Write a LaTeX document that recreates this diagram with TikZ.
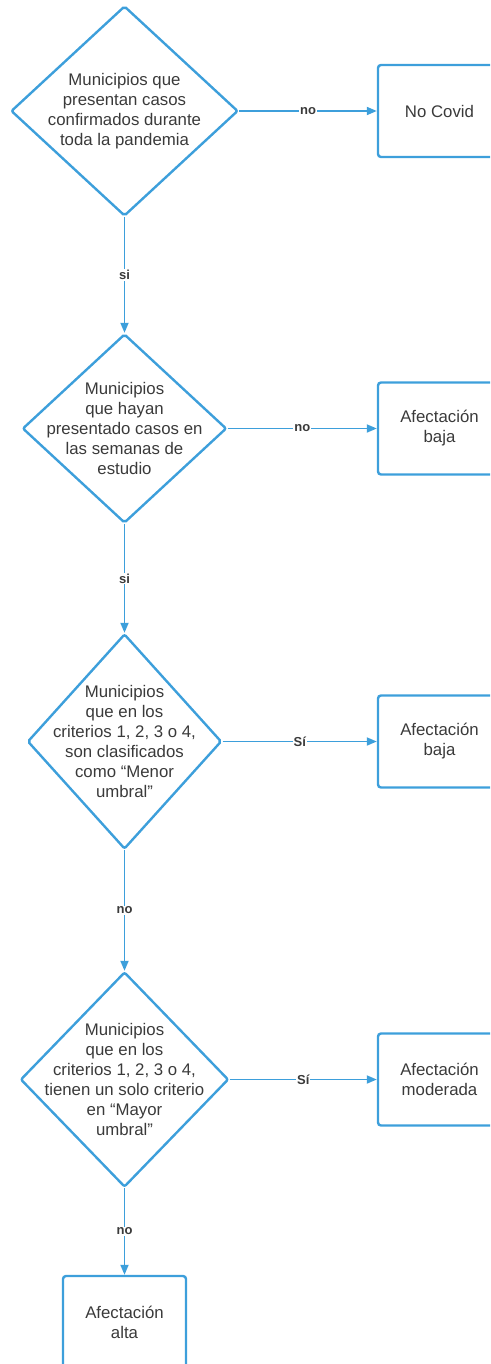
\documentclass[tikz,border=0pt]{standalone}
\usepackage{fontspec}
\setmainfont{Liberation Sans}
\usepackage{tikz}
\usetikzlibrary{arrows.meta,shapes.geometric,positioning}
\definecolor{flowblue}{HTML}{3D9FDB}
\definecolor{flowtext}{HTML}{3A3A3A}

\begin{document}
\begin{tikzpicture}
[x=1pt,y=-1pt,
decision/.style={diamond,draw=flowblue,line width=2.4pt,rounded corners=2pt,inner sep=0pt,aspect=1},
txt/.style={align=center,text=flowtext,font=\fontsize{16.8}{20}\selectfont,inner sep=0pt},
outcome/.style={rectangle,draw=flowblue,line width=2.4pt,rounded corners=3pt,minimum width=123pt,minimum height=92pt,align=center,text=flowtext,font=\fontsize{16.8}{20}\selectfont},
lbl/.style={fill=white,inner sep=1pt,text=flowtext,font=\fontsize{13}{14}\selectfont\bfseries},
flow/.style={draw=flowblue,line width=1.8pt,-{Triangle[length=10pt,width=8pt]}}]
\path[use as bounding box,clip] (0,0) rectangle (490,1364);

\node[decision,minimum width=227pt,minimum height=210pt] (01) at (124.5,111) [label={[txt]center:{Municipios que\\presentan casos\\confirmados durante\\toda la pandemia}}] {};
\node[outcome] (11) at (439.5,111) {No Covid};

\node[decision,minimum width=204pt,minimum height=189pt] (02) at (124.5,428.5) [label={[txt]center:{Municipios\\que hayan\\presentado casos en\\las semanas de\\estudio}}] {};
\node[outcome] (12) at (439.5,428.5) {Afectación\\baja};

\node[decision,minimum width=194pt,minimum height=215pt] (03) at (124.5,741.5) [label={[txt]center:{Municipios\\que en los\\criterios 1, 2, 3 o 4,\\son clasificados\\como “Menor\\umbral”}}] {};
\node[outcome] (13) at (439.5,741.5) {Afectación\\baja};

\node[decision,minimum width=208pt,minimum height=215pt] (04) at (124.5,1079.5) [label={[txt]center:{Municipios\\que en los\\criterios 1, 2, 3 o 4,\\tienen un solo criterio\\en “Mayor\\umbral”}}] {};
\node[outcome] (14) at (439.5,1079.5) {Afectación\\moderada};

\node[outcome] (05) at (124.5,1322) {Afectación\\alta};

\draw [flow] (01) -- node[lbl] {no} (11);
\draw [flow] (01) -- node[lbl] {si} (02);
\draw [flow] (02) -- node[lbl] {no} (12);
\draw [flow] (02) -- node[lbl] {si} (03);
\draw [flow] (03) -- node[lbl] {Sí} (13);
\draw [flow] (03) -- node[lbl] {no} (04);
\draw [flow] (04) -- node[lbl] {Sí} (14);
\draw [flow] (04) -- node[lbl] {no} (05);
\end{tikzpicture}
\end{document}
